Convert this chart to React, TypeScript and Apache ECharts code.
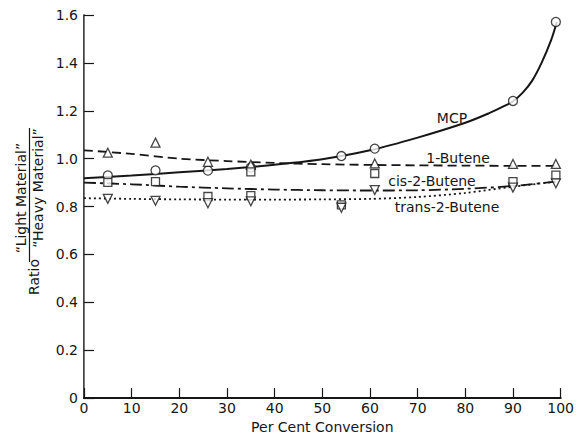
import React, { useEffect, useRef } from "react";
import * as echarts from "echarts";

// Measured points (Per Cent Conversion, Ratio)
const mcpPoints = [[5, 0.93], [15, 0.951], [26, 0.95], [35, 0.963], [54, 1.011], [61, 1.042], [90, 1.241], [99, 1.571]];
const butene1Points = [[5, 1.025], [15, 1.067], [26, 0.987], [35, 0.975], [61, 0.98], [90, 0.978], [99, 0.978]];
const cisPoints = [[5, 0.901], [15, 0.904], [26, 0.842], [35, 0.945], [35, 0.846], [54, 0.807], [61, 0.938], [90, 0.904], [99, 0.931]];
const transPoints = [[5, 0.832], [15, 0.824], [26, 0.814], [35, 0.822], [54, 0.795], [61, 0.869], [90, 0.879], [99, 0.897]];

// Fitted curves
const curveX = [0, 10, 20, 30, 40, 50, 60, 70, 80, 90, 99.5];
const butene1Curve = [1.035, 1.02, 1.0, 0.99, 0.982, 0.977, 0.974, 0.972, 0.971, 0.97, 0.97];
const cisCurve = [0.9, 0.893, 0.883, 0.876, 0.871, 0.868, 0.867, 0.868, 0.874, 0.886, 0.905];
const transCurve = [0.835, 0.832, 0.83, 0.829, 0.829, 0.83, 0.832, 0.84, 0.857, 0.883, 0.905];
const mcpCurveX = [0, 10, 20, 30, 40, 50, 60, 70, 80, 85, 88, 90, 92, 94, 96, 98, 99.2];
const mcpCurveY = [0.918, 0.93, 0.943, 0.957, 0.975, 0.998, 1.035, 1.088, 1.15, 1.19, 1.218, 1.24, 1.275, 1.325, 1.4, 1.495, 1.571];

const xTicks = [0, 10, 20, 30, 40, 50, 60, 70, 80, 90, 100];
const yTicks = [0, 0.2, 0.4, 0.6, 0.8, 1.0, 1.2, 1.4, 1.6];

const seriesNames = ["MCP", "1-Butene", "cis-2-Butene", "trans-2-Butene"];

const INK = "#161616";
const FONT = "DejaVu Sans";

const zip = (xs: number[], ys: number[]) => xs.map((x, i) => [x, ys[i]]);

export default function App() {
  const ref = useRef<HTMLDivElement>(null);
  useEffect(() => {
    if (!ref.current) return;
    const chart = echarts.init(ref.current, undefined, { renderer: "svg" });
    const markerStyle = { color: "#fff", borderColor: INK, borderWidth: 1.3 };
    const lineSeries = (name: string, data: number[][], type: any, width = 1.8) => ({
      name,
      type: "line",
      data,
      smooth: 0.3,
      showSymbol: false,
      symbol: "none",
      lineStyle: { color: INK, width, type },
      z: 2,
      silent: true,
    });
    const scatter = (name: string, data: number[][], symbol: string, rotate = 0, size = 8) => ({
      name: name + " data",
      type: "scatter",
      data,
      symbol,
      symbolSize: size,
      symbolRotate: rotate,
      itemStyle: markerStyle,
      z: 3,
    });
    const label = (text: string, x: number, y: number, size = 14, rotation = 0) => ({
      type: "text",
      x,
      y,
      rotation,
      style: { text, fill: INK, font: `${size}px "${FONT}"`, align: "center", verticalAlign: "middle" },
    });
    chart.setOption({
      animation: false,
      backgroundColor: "#fff",
      grid: { left: 84, right: 14, top: 15, bottom: 37 },
      xAxis: [
        {
          type: "value",
          min: 0,
          max: 100,
          interval: 10,
          name: "Per Cent Conversion",
          nameLocation: "middle",
          nameGap: 20,
          nameTextStyle: { color: INK, fontFamily: FONT, fontSize: 14 },
          axisLine: { show: true, lineStyle: { color: INK, width: 1.6 } },
          axisTick: { show: true, inside: true, length: 10, lineStyle: { color: INK, width: 1.2 } },
          axisLabel: {
            color: INK,
            fontFamily: FONT,
            fontSize: 14,
            margin: 3,
            formatter: (v: number) => (xTicks.includes(v) ? String(v) : ""),
          },
          splitLine: { show: false },
        },
        {
          type: "value",
          position: "top",
          min: 0,
          max: 100,
          axisLine: { show: true, lineStyle: { color: INK, width: 1.8 } },
          axisTick: { show: false },
          axisLabel: { show: false },
          splitLine: { show: false },
        },
      ],
      yAxis: [
        {
          type: "value",
          min: 0,
          max: 1.6,
          interval: 0.2,
          axisLine: { show: true, lineStyle: { color: INK, width: 1.6 } },
          axisTick: { show: true, inside: true, length: 10, lineStyle: { color: INK, width: 1.2 } },
          axisLabel: {
            color: INK,
            fontFamily: FONT,
            fontSize: 14,
            margin: 6,
            formatter: (v: number) => {
              const t = yTicks.find((y) => Math.abs(y - v) < 1e-6);
              if (t === undefined) return "";
              return t === 0 ? "0" : t.toFixed(1);
            },
          },
          splitLine: { show: false },
        },
        {
          type: "value",
          position: "right",
          min: 0,
          max: 1.6,
          axisLine: { show: true, lineStyle: { color: "#777", width: 1 } },
          axisTick: { show: false },
          axisLabel: { show: false },
          splitLine: { show: false },
        },
      ],
      series: [
        lineSeries(seriesNames[0], zip(mcpCurveX, mcpCurveY), "solid", 2),
        lineSeries(seriesNames[1], zip(curveX, butene1Curve), [9, 5], 1.8),
        lineSeries(seriesNames[2], zip(curveX, cisCurve), [12, 4, 3, 4], 1.8),
        lineSeries(seriesNames[3], zip(curveX, transCurve), [2, 3], 1.8),
        scatter(seriesNames[0], mcpPoints, "circle", 0, 9),
        scatter(seriesNames[1], butene1Points, "triangle", 0, 9),
        scatter(seriesNames[2], cisPoints, "rect", 0, 8),
        scatter(seriesNames[3], transPoints, "triangle", 180, 9),
      ],
      graphic: [
        label("MCP", 452, 118, 14),
        label("1-Butene", 458, 158, 14),
        label("cis-2-Butene", 432, 181, 14),
        label("trans-2-Butene", 447, 207, 14),
        label("Ratio", 34, 277, 14, Math.PI / 2),
        label("\u201CLight Material\u201D", 21, 198, 14, Math.PI / 2),
        label("\u201CHeavy Material\u201D", 38, 188, 14, Math.PI / 2),
        { type: "line", shape: { x1: 29.5, y1: 128, x2: 29.5, y2: 262 }, style: { stroke: INK, lineWidth: 1.2 } },
      ],
    });
    return () => chart.dispose();
  }, []);
  return <div ref={ref} style={{ position: "fixed", left: 0, top: 0, width: 577, height: 439 }} />;
}
